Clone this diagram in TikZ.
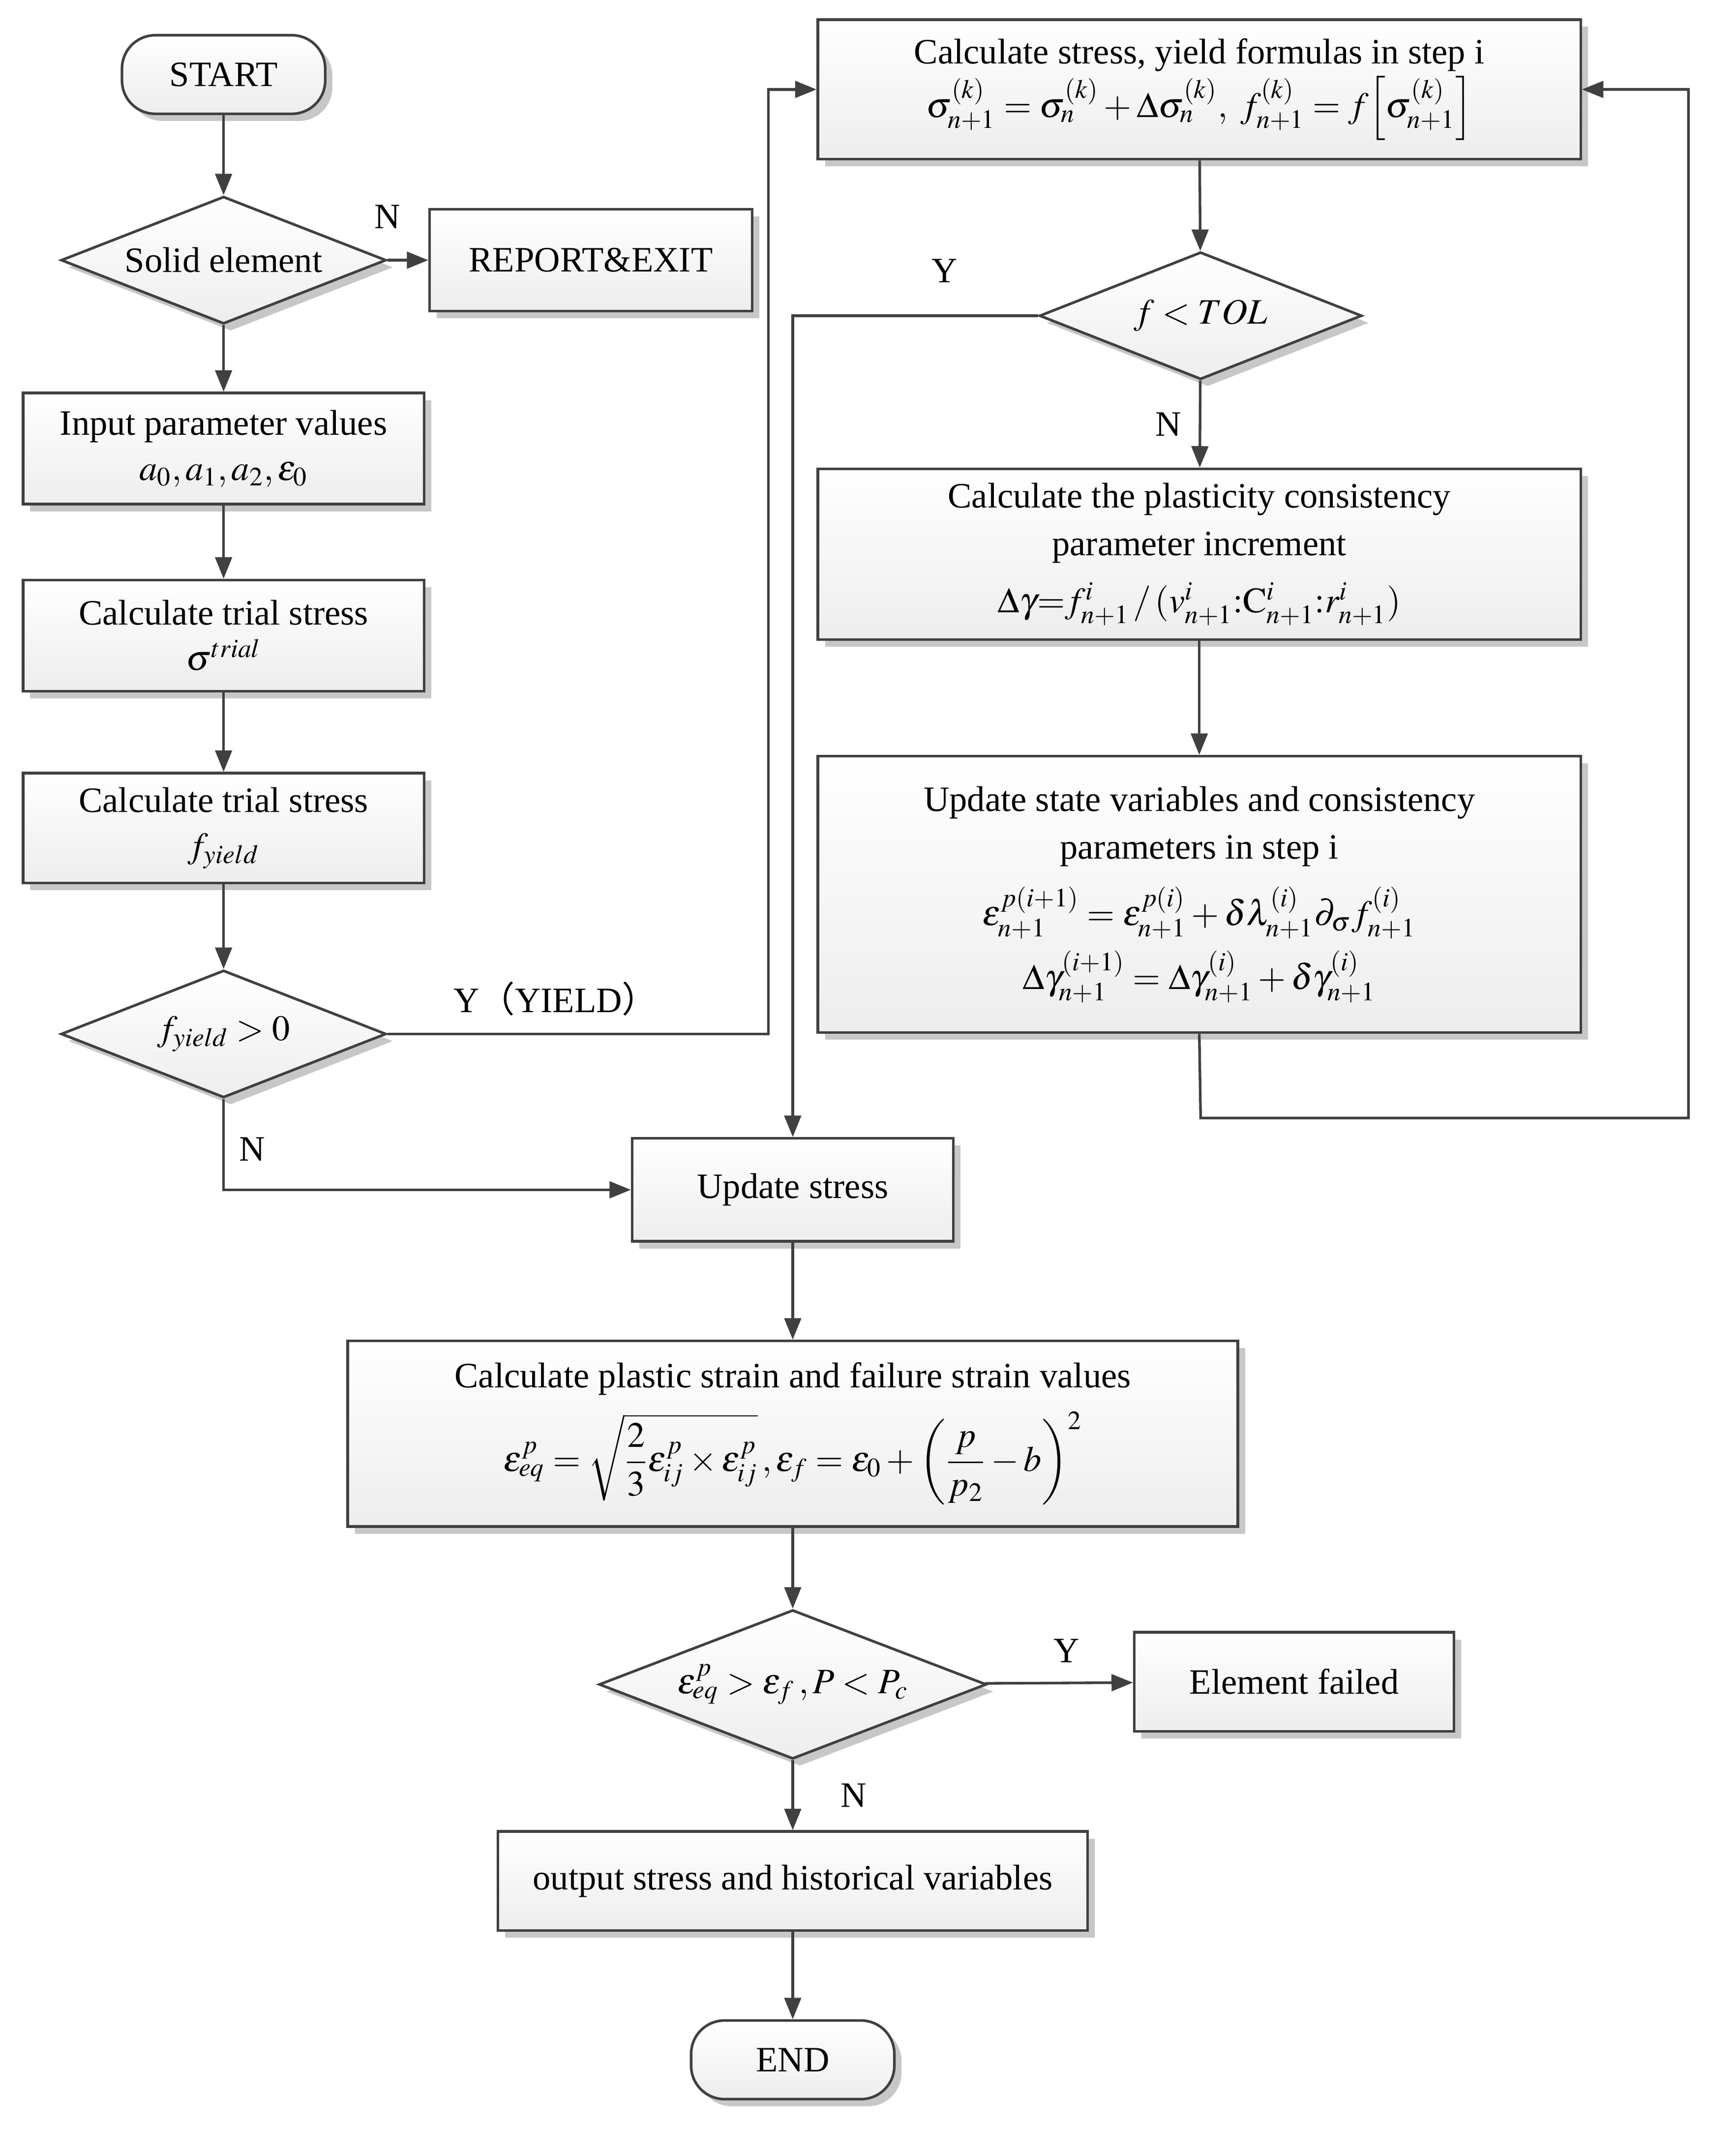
\documentclass[tikz,border=0pt]{standalone}
\usepackage{amsmath,amssymb}
\usepackage{mathptmx}
\usepackage[no-math]{fontspec}
\setmainfont{Liberation Serif}
\newfontfamily\cjk{Noto Sans CJK SC}
\usetikzlibrary{shapes.geometric,arrows.meta,shadows,positioning}

\begin{document}
\begin{tikzpicture}[x=0.02cm, y=-0.02cm, line width=1.1pt, draw=black!75,
    font=\fontsize{15}{20}\selectfont,
    every node/.style={inner sep=1pt},
    base/.style={draw=black!75, line width=1.1pt, top color=white, bottom color=black!7,
        drop shadow={shadow xshift=3pt, shadow yshift=-3pt, fill=black!22, opacity=1}},
    process/.style={base, rectangle, align=center},
    decision/.style={base, diamond, aspect=2.55, inner sep=0pt},
    terminal/.style={base, rounded corners=14pt, minimum width=3cm, minimum height=1.16cm},
    flow/.style={->, >={Triangle[length=9pt, width=7pt]}, draw=black!75, line width=1.1pt},
    lbl/.style={font=\fontsize{15}{17}\selectfont}]
    \useasboundingbox (0,0) rectangle (1280,1591);

    % Left column
    \node [terminal] (start) at (165,55) {START};
    \node [decision, minimum width=4.8cm, minimum height=1.88cm] (solid) at (165,192) {Solid element};
    \node [process, minimum width=4.76cm, minimum height=1.5cm] (report) at (436,192) {REPORT\&EXIT};
    \node [process, minimum width=5.92cm, minimum height=1.64cm] (input) at (165,331)
        {Input parameter values\\[-1pt] $a_0,a_1,a_2,\varepsilon_0$};
    \node [process, minimum width=5.92cm, minimum height=1.64cm] (trial) at (165,469)
        {Calculate trial stress\\[-1pt] $\sigma^{trial}$};
    \node [process, minimum width=5.92cm, minimum height=1.62cm] (fy) at (165,611)
        {Calculate trial stress\\[-1pt] $f_{yield}$};
    \node [decision, minimum width=4.8cm, minimum height=1.88cm] (yield) at (165,763) {$f_{yield}>0$};

    % Right column
    \node [process, minimum width=11.26cm, minimum height=2.06cm] (calc) at (885,66)
        {Calculate stress, yield formulas in step i\\[1pt]
         $\sigma^{(k)}_{n+1}=\sigma^{(k)}_{n}+\Delta\sigma^{(k)}_{n},\ f^{(k)}_{n+1}=f\Big[\sigma^{(k)}_{n+1}\Big]$};
    \node [decision, minimum width=4.76cm, minimum height=1.88cm] (tol) at (886,233) {$f<TOL$};
    \node [process, minimum width=11.26cm, minimum height=2.52cm] (plast) at (885,409)
        {Calculate the plasticity consistency\\ parameter increment\\[4pt]
         $\Delta\gamma{=}f^{i}_{n+1}\,/\,(v^{i}_{n+1}{:}\mathrm{C}^{i}_{n+1}{:}r^{i}_{n+1})$};
    \node [process, minimum width=11.26cm, minimum height=4.08cm] (state) at (885,660)
        {Update state variables and consistency\\ parameters in step i\\[8pt]
         $\varepsilon^{p(i+1)}_{n+1}=\varepsilon^{p(i)}_{n+1}+\delta\lambda^{(i)}_{n+1}\partial_{\sigma}f^{(i)}_{n+1}$\\[4pt]
         $\Delta\gamma^{(i+1)}_{n+1}=\Delta\gamma^{(i)}_{n+1}+\delta\gamma^{(i)}_{n+1}$};

    % Lower part
    \node [process, minimum width=4.74cm, minimum height=1.52cm] (upd) at (585,878) {Update stress};
    \node [process, minimum width=13.14cm, minimum height=2.74cm] (strain) at (585,1058)
        {Calculate plastic strain and failure strain values\\[6pt]
         $\varepsilon^{p}_{eq}=\sqrt{\dfrac{2}{3}\varepsilon^{p}_{ij}\times\varepsilon^{p}_{ij}}\,,\varepsilon_f=\varepsilon_0+\left(\dfrac{p}{p_2}-b\right)^{2}$};
    \node [decision, minimum width=5.72cm, minimum height=2.2cm] (fail) at (585,1243)
        {$\varepsilon^{p}_{eq}>\varepsilon_f\,,P<P_c$};
    \node [process, minimum width=4.72cm, minimum height=1.46cm] (failed) at (955,1241) {Element failed};
    \node [process, minimum width=8.7cm, minimum height=1.46cm] (out) at (585,1388)
        {output stress and historical variables};
    \node [terminal] (end) at (585,1520) {END};

    % Arrows and lines
    \draw [flow] (start) -- (solid);
    \draw [flow] (solid) -- (report);
    \draw [flow] (solid) -- (input);
    \draw [flow] (input) -- (trial);
    \draw [flow] (trial) -- (fy);
    \draw [flow] (fy) -- (yield);
    \draw [flow] (yield.east) -| (567,430) |- (calc.west);
    \draw [flow] (yield.south) |- (upd.west);
    \draw [flow] (calc) -- (tol);
    \draw [flow] (tol.west) -| (upd.north);
    \draw [flow] (tol) -- (plast);
    \draw [flow] (plast) -- (state);
    \draw [flow] (state.south) -- (886,825) -| (1246,400) |- (calc.east);
    \draw [flow] (upd) -- (strain);
    \draw [flow] (strain) -- (fail);
    \draw [flow] (fail) -- (failed);
    \draw [flow] (fail) -- (out);
    \draw [flow] (out) -- (end);

    % Node Labels
    \node [lbl] (n1) at (286,160) {N};
    \node [lbl] (y1) at (410,737) {Y{\cjk （}YIELD{\cjk ）}};
    \node [lbl] (n2) at (186,848) {N};
    \node [lbl] (y2) at (697,200) {Y};
    \node [lbl] (n3) at (862,313) {N};
    \node [lbl] (y3) at (787,1218) {Y};
    \node [lbl] (n4) at (630,1325) {N};
\end{tikzpicture}
\end{document}
